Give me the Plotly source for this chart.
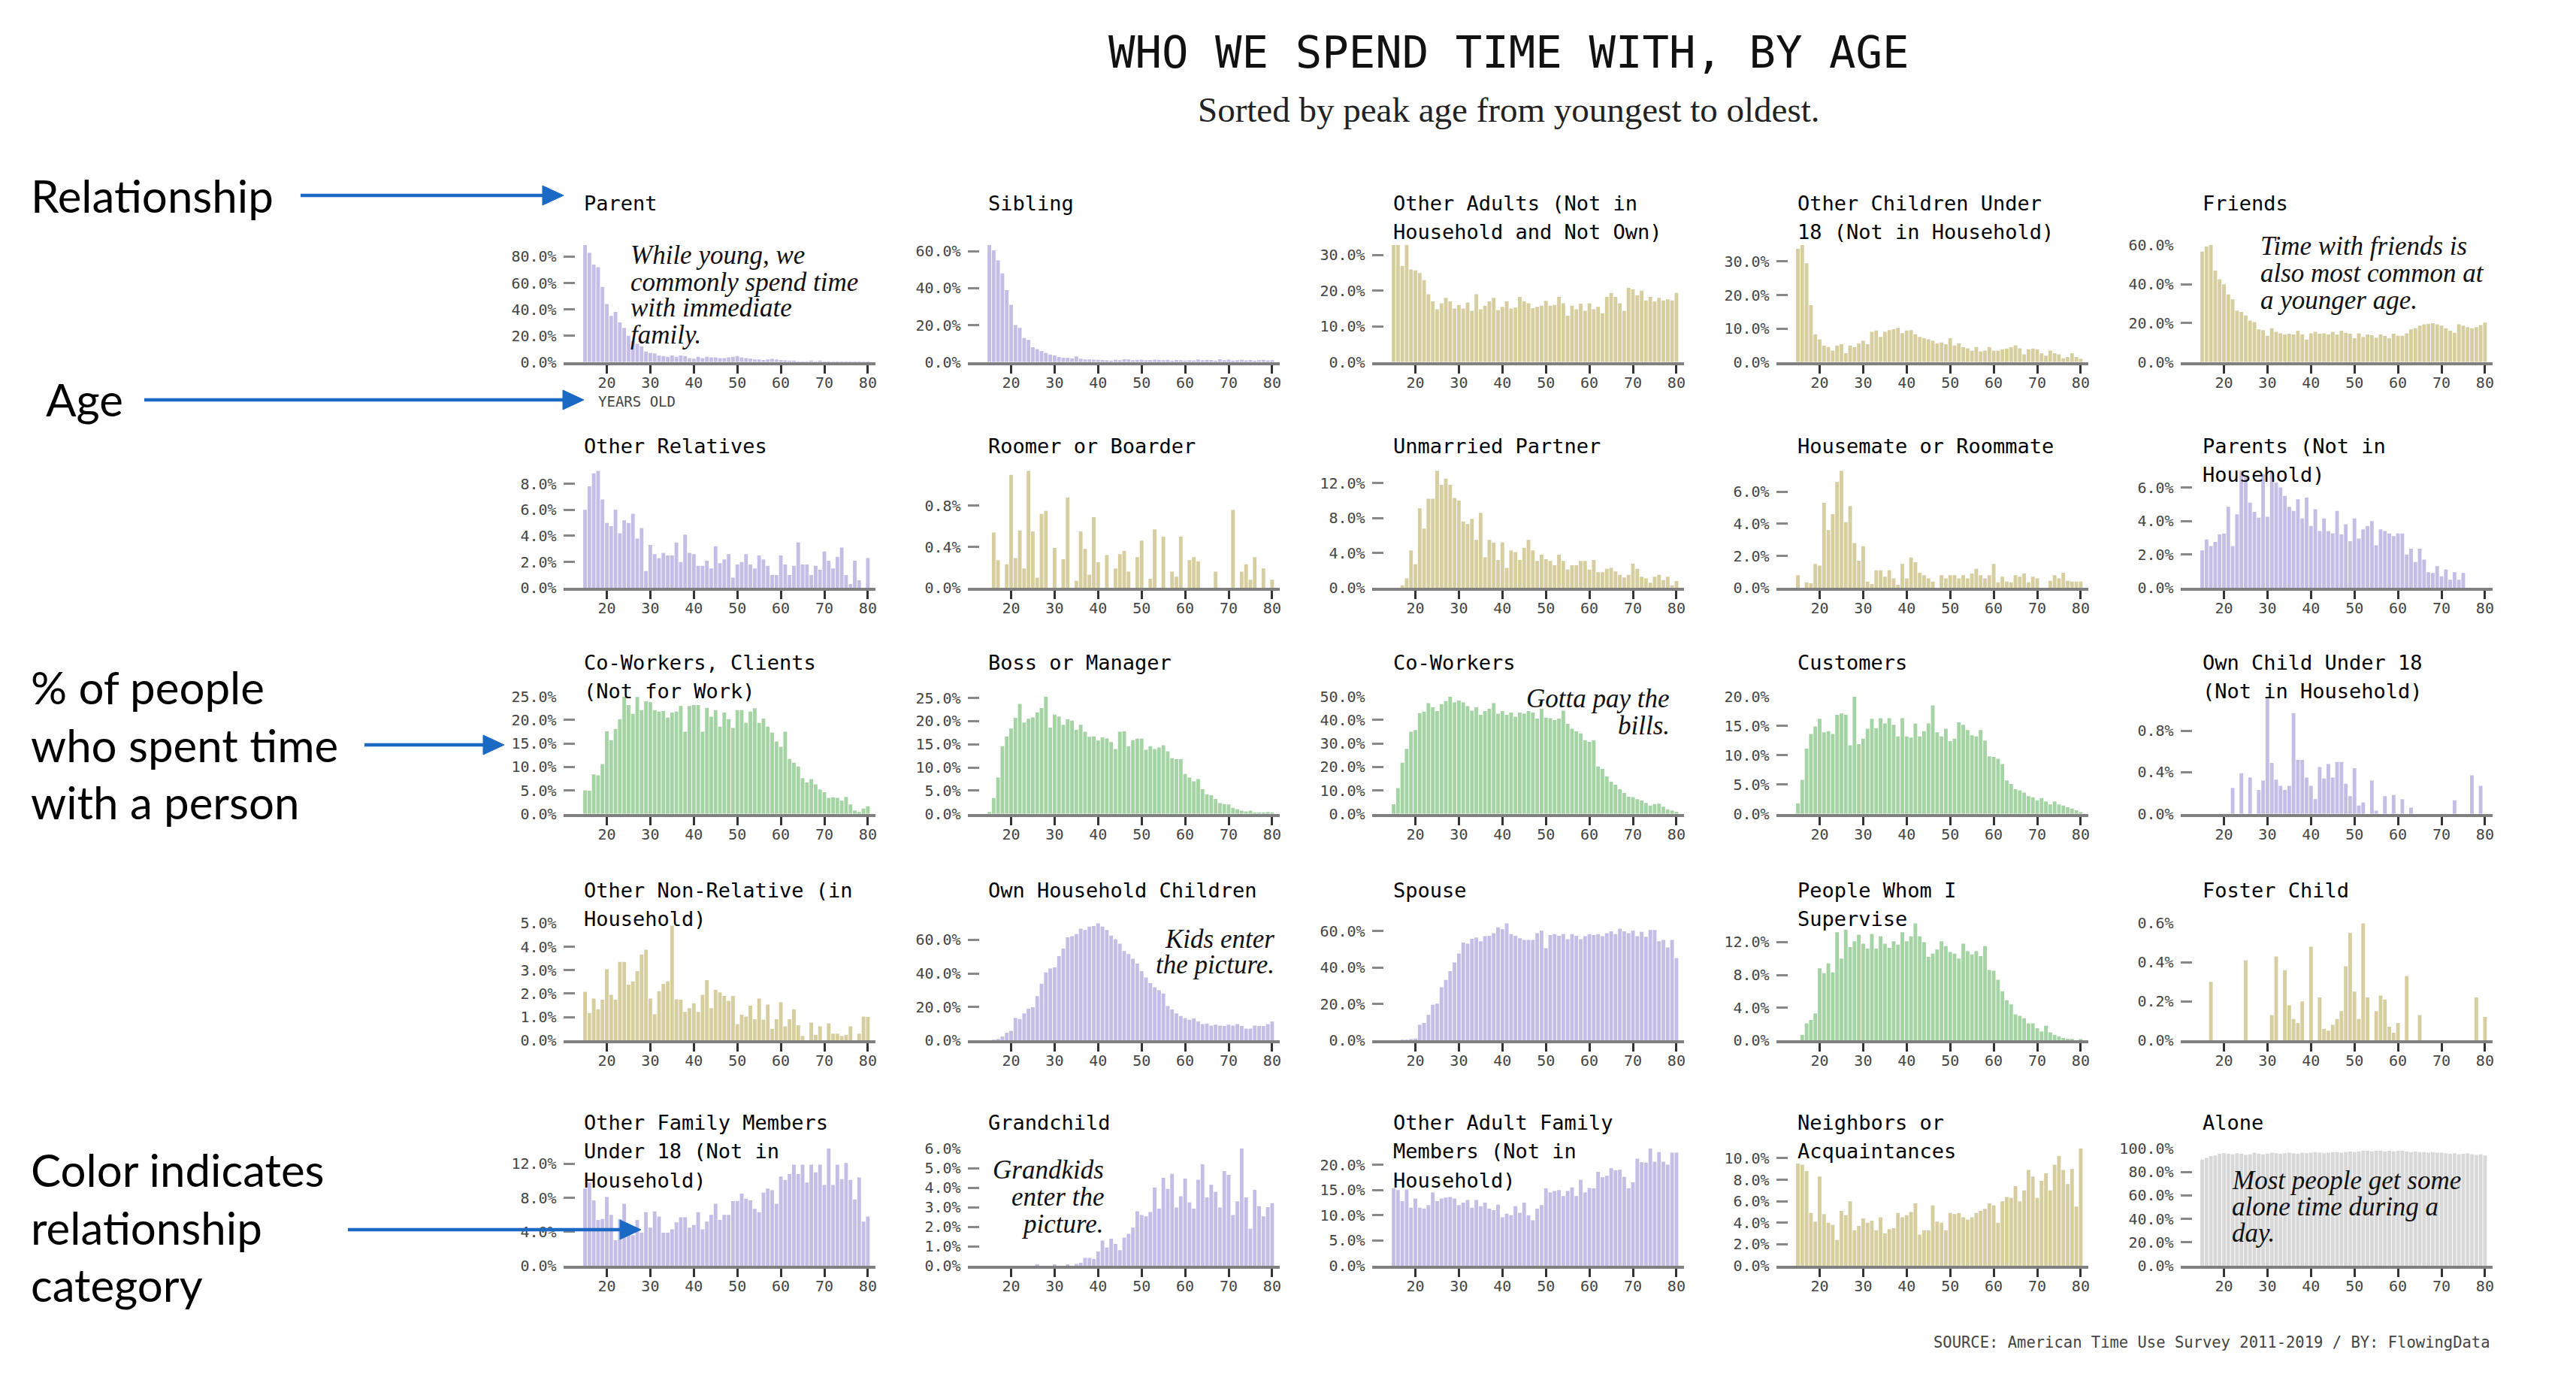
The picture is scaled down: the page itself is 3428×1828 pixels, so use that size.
import plotly.graph_objects as go

# ---------------- DATA ----------------
ages = list(range(15, 81))

parent = [89, 83, 74, 72, 57, 44, 35, 38, 30, 26,
          20, 16, 14, 12, 8, 7, 6.5, 5, 4.5, 4,
          5, 4, 5, 4.5, 3, 2.5, 4, 3, 4, 3.5,
          3.5, 3, 3, 3.5, 4, 4.5, 3.5, 3, 2.5, 2,
          2, 1.5, 2, 2.5, 2, 1.5, 1.2, 1, 0.8, 0.5,
          0.4, 0.3, 0.6, 0.5, 0.7, 0.3, 0.2, 0.2, 0.1, 0.1,
          0.1, 0.1, 0.1, 0.1, 0.1, 0.1]
sibling = [63.5, 60.5, 55, 48, 39, 31, 20, 18.5, 13, 12,
           8, 7, 6, 5, 4, 3.5, 2.7, 2.3, 2.3, 2,
           3, 1.8, 1.4, 1.4, 1.3, 1.2, 1.1, 1.0, 0.8, 1.2,
           1.0, 1.5, 1.4, 1.0, 1.2, 1.3, 1.0, 1.1, 1.3, 1.2,
           1.0, 1.2, 0.8, 1.1, 1.0, 0.8, 1.0, 0.9, 1.4, 1.0,
           1.2, 1.1, 0.7, 1.5, 1.0, 1.3, 0.8, 1.0, 1.2, 0.9,
           1.1, 0.8, 1.0, 1.2, 0.9, 1.0]
other_adults = [32.9, 32.9, 27, 32.9, 26, 25.7, 25, 23, 19, 17,
                14.8, 16.5, 18, 17, 15, 16, 15, 16.7, 14.4, 19,
                14.8, 15.8, 17, 18, 14.6, 15.5, 17, 15, 15.3, 18.3,
                17, 16.5, 15.1, 15.5, 15.8, 17.2, 15.8, 16, 18.3, 16.5,
                13, 15.8, 14.8, 16.4, 14.4, 16.5, 14.8, 15.5, 13.7, 18.3,
                19.4, 18.3, 16.5, 14.4, 20.8, 20.4, 18.7, 20, 17.3, 18.3,
                17, 18, 17.3, 17.6, 17.3, 19.4]
other_children = [33.8, 35, 29.5, 17, 8.3, 6.8, 4.9, 4.5, 3.4, 4.9,
                  5.3, 2.6, 4.9, 4.5, 5.6, 6.4, 5.3, 9, 9.4, 7.5,
                  9, 9.5, 9.8, 10.2, 8.6, 9.4, 9.5, 8.3, 7.5, 7.1,
                  6.8, 6.4, 5.6, 5.8, 5.3, 7.1, 4.9, 5.6, 4.5, 4.1,
                  3.4, 4.5, 3.2, 3.4, 4.5, 3.4, 3.4, 3.8, 4, 4.5,
                  5, 4.1, 2.3, 3.8, 4, 3.8, 2.6, 1.9, 3.4, 2.6,
                  2.3, 1.1, 1.5, 2.6, 1.5, 1]
friends = [56.8, 59.4, 60.3, 47, 42.6, 40, 34.8, 32.3, 26.5, 25.8,
           23.9, 21.3, 20.6, 16.8, 16.4, 13.5, 17.4, 15.5, 14.8, 14.2,
           14.6, 14.2, 16.1, 14.2, 11.6, 14.8, 15.5, 14.6, 14.8, 14.2,
           15.5, 14.2, 16.1, 15.1, 14.6, 12.3, 14.8, 12.9, 14.2, 13.8,
           12.5, 14.2, 13.5, 12.3, 14.6, 13.5, 13.5, 14.8, 16.8, 17.4,
           18.7, 19.4, 19.7, 20, 19.4, 18.7, 17.4, 16.1, 15.1, 19.4,
           18.7, 18, 17.4, 18, 19, 20.3]
other_relatives = [6.0, 7.8, 8.8, 9.0, 6.8, 5.0, 4.75, 6.0, 4.2, 5.2,
                   5.0, 5.7, 3.8, 4.6, 1.3, 3.3, 2.6, 2.3, 2.7, 2.5,
                   2.5, 3.5, 2.0, 4.1, 2.7, 2.6, 1.7, 1.7, 2.1, 1.5,
                   3.2, 1.9, 2.2, 2.6, 0.8, 1.8, 2.0, 2.6, 1.8, 1.5,
                   2.5, 2.2, 1.7, 1.0, 1.0, 2.5, 1.8, 1.0, 1.7, 3.5,
                   1.8, 1.8, 1.0, 1.7, 1.4, 2.8, 2.1, 1.5, 2.4, 3.1,
                   1.0, 0.3, 2.1, 0.6, 0.0, 2.3]
roomer_ages = [16, 17, 19, 20, 21, 22, 23, 24, 25, 26,
               27, 28, 30, 32, 33, 35, 36, 37, 38, 39,
               40, 42, 44, 45, 46, 47, 49, 50, 52, 53,
               55, 57, 58, 59, 61, 62, 63, 67, 71, 73,
               74, 75, 76, 78, 80]
roomer_vals = [0.54, 0.27, 0.23, 1.10, 0.29, 0.56, 0.19, 1.14, 0.55, 0.10,
               0.72, 0.75, 0.39, 0.28, 0.88, 0.07, 0.55, 0.38, 0.13, 0.69,
               0.25, 0.32, 0.19, 0.33, 0.36, 0.16, 0.30, 0.46, 0.09, 0.57,
               0.50, 0.16, 0.11, 0.50, 0.27, 0.30, 0.26, 0.16, 0.76, 0.16,
               0.23, 0.08, 0.30, 0.19, 0.08]
unmarried = [0, 0, 0.3, 1.1, 4.3, 2.7, 9.1, 6.8, 10.2, 10.2,
             13.4, 11.8, 12.5, 11.8, 10.3, 10.0, 7.6, 7.3, 7.9, 5.5,
             8.6, 3.5, 5.5, 5.2, 3.2, 5.2, 2.3, 4.3, 4.1, 3.2,
             4.6, 5.5, 4.3, 3.1, 3.8, 3.3, 3.1, 2.6, 3.8, 3.1,
             2.1, 2.6, 2.6, 3.1, 3.1, 2.1, 3.2, 1.8, 1.8, 2.2,
             2.3, 1.9, 1.5, 1.2, 1.5, 2.8, 2.2, 1.3, 1.1, 0.6,
             1.3, 1.5, 0.9, 1.3, 0.3, 0.8]
housemate = [0.8, 0, 0.35, 0.3, 1.5, 1.4, 5.3, 3.6, 4.6, 6.6,
             7.3, 4.1, 5.1, 2.8, 1.7, 2.6, 0.4, 0.25, 1.1, 1.1,
             0.7, 1.1, 0.6, 0.2, 1.5, 0.6, 1.9, 1.6, 0.95, 0.8,
             0.6, 0.4, 0, 0.8, 0.6, 0.8, 0.8, 0.6, 0.8, 0.6,
             0.9, 1.2, 0.8, 0.6, 0.8, 1.5, 0.35, 0.7, 0.4, 0.35,
             0.8, 0.7, 0.9, 0.35, 0.7, 0.6, 0, 0, 0.45, 0.8,
             0.6, 0.95, 0.45, 0.4, 0.4, 0.4]
parents_not_hh = [2.25, 2.9, 2.5, 2.75, 3.2, 3.25, 4.85, 2.5, 4.4, 7.0,
                  6.6, 5.1, 4.55, 4.2, 6.8, 4.25, 6.9, 6.3, 6.0, 5.5,
                  4.85, 4.6, 5.3, 4.15, 5.4, 3.7, 4.7, 3.4, 4.15, 3.4,
                  3.25, 4.6, 3.2, 3.8, 2.8, 4.15, 2.95, 3.5, 3.7, 4.0,
                  2.55, 3.5, 3.4, 3.25, 3.1, 3.25, 3.25, 2.0, 2.35, 1.55,
                  2.35, 1.7, 0.95, 0.9, 1.3, 0.7, 1.1, 0.5, 0.95, 0.5,
                  0.9, 0, 0, 0, 0, 0]
coworkers_clients = [5.0, 4.9, 8.4, 8.2, 10.6, 17.6, 15.7, 18.1, 20.2, 25.0,
                     23.2, 21.3, 24.9, 22.1, 24.0, 23.8, 22.1, 21.8, 21.9, 20.5,
                     21.6, 21.8, 23.0, 17.5, 23.0, 23.2, 23.2, 17.5, 22.6, 20.7,
                     22.1, 18.6, 21.6, 20.2, 18.3, 22.1, 22.1, 19.4, 21.8, 22.5,
                     19.4, 20.3, 18.6, 17.3, 15.4, 14.3, 17.5, 11.7, 10.9, 10.1,
                     7.6, 6.7, 7.4, 6.3, 5.2, 4.6, 3.4, 3.5, 3.4, 2.8,
                     3.6, 2.0, 0.7, 0.4, 1.1, 1.6]
boss = [0.4, 3.4, 7.8, 14.6, 16.7, 18.4, 20.7, 23.7, 19.7, 20.5,
        20.8, 21.9, 22.8, 25.3, 18.6, 21.4, 21.0, 19.2, 20.4, 20.1,
        18.1, 19.2, 17.7, 16.6, 16.7, 15.8, 16.5, 16.3, 15.5, 14.0,
        17.7, 17.8, 14.6, 15.9, 16.2, 16.2, 13.8, 14.6, 14.0, 14.3,
        14.8, 13.5, 12.0, 11.8, 11.8, 8.6, 7.8, 7.0, 7.5, 5.3,
        4.2, 4.0, 3.2, 2.3, 2.1, 2.0, 1.3, 1.0, 0.7, 0.5,
        0.7, 0.3, 0.3, 0.2, 0.4, 0.2]
coworkers = [4.1, 11, 21.8, 27.7, 35, 35.7, 42.9, 43.6, 47.2, 45.4,
             43.8, 46.8, 48.1, 50.0, 47.5, 48.3, 47.5, 45.9, 44.0, 45.4,
             42.2, 43.8, 44.8, 47.2, 42.7, 43.8, 42.2, 43.2, 41.4, 43.2,
             42.7, 43.8, 43.2, 40.6, 44.8, 41.0, 40.8, 40.0, 40.6, 44.0,
             38.4, 36.3, 35.2, 34.3, 31.4, 30.7, 31.4, 20.2, 19.1, 15.9,
             13.7, 12.4, 10.5, 8.9, 7.3, 7.1, 6.2, 5.7, 4.6, 3.5,
             4.1, 4.3, 3.0, 1.9, 1.4, 0.9]
customers = [1.8, 5.8, 11.1, 13.6, 14.9, 16.2, 13.9, 14.1, 13.6, 16.9,
             17.1, 16.9, 11.7, 20.0, 11.9, 12.8, 14.5, 16.2, 14.6, 16.3,
             15.4, 16.3, 15.2, 13.2, 16.3, 13.2, 13.0, 15.4, 13.2, 14.1,
             15.4, 18.5, 13.9, 13.2, 14.5, 12.4, 12.8, 15.6, 15.2, 14.3,
             13.4, 13.2, 14.3, 12.5, 9.8, 9.7, 9.4, 8.5, 5.7, 5.1,
             4.2, 4.0, 3.6, 3.0, 2.8, 2.3, 2.7, 2.1, 1.6, 2.1,
             1.6, 1.4, 1.1, 0.9, 0.6, 0.3]
own_child_not_hh_ages = [22, 24, 26, 28, 29, 30, 31, 32, 33, 34,
                         35, 36, 37, 38, 39, 40, 41, 42, 43, 44,
                         45, 46, 47, 48, 49, 50, 51, 52, 54, 55,
                         57, 59, 61, 63, 73, 77, 79]
own_child_not_hh_vals = [0.25, 0.39, 0.35, 0.23, 0.32, 1.13, 0.49, 0.33, 0.27, 0.23,
                         0.27, 0.97, 0.52, 0.52, 0.35, 0.27, 0.14, 0.45, 0.34, 0.48,
                         0.35, 0.5, 0.5, 0.29, 0.17, 0.44, 0.08, 0.11, 0.32, 0.03,
                         0.17, 0.18, 0.14, 0.06, 0.13, 0.37, 0.27]
other_non_relative = [2.08, 1.17, 1.79, 1.33, 1.74, 3.04, 1.95, 1.74, 3.35, 3.35,
                      2.38, 2.52, 2.96, 3.66, 3.87, 1.79, 1.12, 2.10, 2.41, 2.52,
                      4.9, 1.76, 1.74, 1.22, 1.38, 1.59, 1.22, 1.95, 2.57, 1.38,
                      2.16, 2.05, 1.90, 1.69, 1.90, 0.70, 1.10, 1.02, 1.48, 0.91,
                      1.79, 0.89, 1.53, 0.50, 0.91, 1.64, 0.60, 0.91, 1.33, 0.65,
                      0.19, 0, 0.76, 0.24, 0.60, 0, 0.73, 0.29, 0.29, 0.19,
                      0.24, 0.60, 0, 0.29, 1.02, 1.0]
own_hh_children = [0, 0.3, 0.6, 2.4, 4.6, 5.7, 13.5, 12.8, 16.1, 19.0,
                   19.8, 26.5, 33.9, 40.6, 42.9, 43.6, 50.3, 54.8, 61.5, 62.2,
                   63.4, 66.7, 65.9, 67.9, 68.2, 69.9, 67.9, 65.9, 62.5, 60.4,
                   57.7, 53.3, 51.5, 48.8, 45.8, 41.4, 37.6, 34.2, 31.7, 30.0,
                   28.0, 20.5, 18.5, 16.1, 14.6, 13.4, 12.4, 13.1, 11.3, 9.8,
                   10.1, 8.9, 9.4, 8.9, 8.6, 9.4, 8.9, 9.8, 8.6, 7.1,
                   7.1, 8.9, 8.6, 8.6, 9.8, 11.3]
spouse = [0, 0, 0.3, 0.4, 0.8, 1.1, 8.6, 9.6, 14.1, 19.6,
          20.3, 29.2, 33.3, 38.1, 42.9, 47.7, 53.8, 53.2, 55.9, 56.6,
          54.5, 57.3, 57.5, 58.9, 62.1, 61.1, 64.4, 58.4, 57.5, 56.2,
          55.2, 55.2, 55.2, 58.9, 60.3, 50.7, 57.9, 58.4, 57.5, 58.4,
          55.6, 58.4, 57.5, 55.6, 57.3, 58.4, 57.9, 58.4, 57.3, 58.9,
          60.0, 58.4, 61.4, 60.0, 58.9, 60.3, 57.3, 59.7, 57.0, 60.7,
          60.7, 54.5, 55.2, 51.1, 55.2, 45.2]
supervise = [0, 0.7, 2.1, 2.5, 3.3, 8.8, 8.2, 9.4, 8.3, 13.2,
             10.0, 13.5, 11.4, 12.1, 12.9, 11.8, 11.2, 13.0, 11.2, 12.7,
             11.8, 11.3, 12.1, 11.7, 13.2, 12.1, 12.7, 14.3, 12.7, 12.0,
             10.2, 10.6, 11.1, 12.1, 11.5, 10.8, 10.6, 10.0, 11.8, 10.9,
             10.5, 10.9, 10.3, 11.5, 8.6, 8.5, 7.4, 6.0, 4.9, 4.4,
             3.2, 3.0, 2.7, 2.1, 2.1, 1.5, 1.1, 1.8, 1.0, 0.7,
             0.5, 0.3, 0.2, 0.1, 0, 0.1]
foster_ages = [17, 25, 31, 32, 34, 35, 36, 37, 38, 40,
               42, 43, 44, 45, 46, 47, 48, 49, 50, 51,
               52, 53, 55, 56, 57, 58, 59, 60, 62, 65,
               78, 80]
foster_vals = [0.30, 0.41, 0.13, 0.43, 0.36, 0.18, 0.11, 0.09, 0.20, 0.48,
               0.22, 0.06, 0.05, 0.08, 0.11, 0.15, 0.38, 0.55, 0.25, 0.11,
               0.60, 0.22, 0.15, 0.23, 0.21, 0.07, 0.04, 0.09, 0.33, 0.13,
               0.22, 0.12]
other_family_u18 = [9.1, 9.8, 7.7, 5.4, 5.5, 8.1, 6.0, 3.0, 5.5, 7.3,
                    4.5, 3.6, 5.4, 3.9, 6.3, 4.5, 6.4, 5.8, 3.9, 3.9,
                    4.3, 5.1, 5.7, 5.7, 4.5, 4.8, 6.3, 4.3, 5.2, 6.0,
                    7.3, 5.4, 6.0, 6.0, 7.6, 7.6, 8.5, 7.9, 7.7, 6.7,
                    6.3, 8.6, 9.1, 8.9, 7.3, 10.5, 10.1, 10.8, 11.9, 10.8,
                    11.9, 9.8, 11.9, 11.0, 11.9, 9.5, 13.8, 9.5, 11.9, 10.2,
                    12.1, 10.1, 7.8, 10.4, 5.2, 5.8]
grandchild = [0, 0, 0, 0, 0, 0, 0, 0, 0, 0,
              0, 0.05, 0, 0, 0, 0.05, 0, 0, 0.05, 0,
              0.1, 0.15, 0.4, 0.4, 0.35, 0.73, 1.29, 0.93, 1.38, 1.12,
              0.8, 1.44, 1.63, 1.95, 2.79, 2.6, 2.53, 2.75, 4.0, 2.92,
              4.5, 3.93, 4.7, 2.98, 3.56, 4.46, 3.24, 2.92, 4.4, 5.19,
              3.5, 4.14, 3.78, 2.98, 4.85, 4.65, 2.6, 3.3, 6.0, 3.5,
              1.89, 3.88, 3.05, 2.53, 3.0, 3.2]
other_adult_family = [15.3, 15.0, 12.8, 15.1, 11.5, 13.3, 11.5, 11.3, 12.0, 14.5,
                      12.8, 13.3, 13.5, 13.6, 13.3, 12.0, 12.5, 13.0, 11.5, 13.0,
                      11.8, 12.5, 11.3, 11.0, 12.1, 9.6, 10.3, 10.0, 11.8, 10.5,
                      12.5, 10.0, 9.0, 11.3, 12.0, 15.3, 14.5, 14.8, 15.0, 13.8,
                      14.8, 15.5, 13.8, 17.0, 14.5, 15.4, 15.3, 18.6, 17.5, 17.8,
                      19.3, 18.9, 19.0, 17.6, 15.3, 16.5, 21.2, 20.5, 20.4, 23.2,
                      20.6, 22.5, 20.6, 20.0, 22.4, 22.4]
neighbors = [9.5, 9.4, 8.8, 4.9, 4.1, 8.3, 4.8, 4.0, 3.8, 2.4,
             5.1, 4.7, 6.0, 3.3, 3.7, 4.4, 4.0, 4.2, 3.3, 4.5,
             3.0, 3.4, 3.5, 4.9, 4.5, 4.7, 5.0, 5.8, 2.9, 3.3,
             3.3, 5.6, 4.1, 4.0, 3.3, 4.9, 4.8, 4.9, 4.5, 4.3,
             4.5, 4.9, 5.1, 5.3, 5.8, 5.6, 4.0, 6.0, 6.4, 6.3,
             7.4, 6.0, 7.0, 8.9, 8.3, 6.3, 7.9, 8.6, 7.0, 9.4,
             10.2, 8.9, 7.6, 9.0, 5.5, 10.9]
alone = [90.5, 92, 93.5, 94, 95.5, 96, 95.5, 95, 96, 95.5,
         94.5, 95, 96.5, 95.5, 95, 95.5, 96.5, 96, 95.5, 96,
         96.5, 96, 95.5, 96.5, 96, 96.5, 97, 96.5, 96, 96.5,
         97, 97, 96.5, 97, 97.5, 97, 97.5, 98, 98, 97.5,
         98, 98, 97.5, 98, 97.5, 98, 98, 97.5, 97, 97.5,
         97, 97, 96.5, 97, 96.5, 96.5, 96, 95.5, 96, 95,
         95.5, 96, 95, 94.5, 95, 94]


def expand(a_list, v_list):
    d = dict(zip(a_list, v_list))
    return [d.get(a, 0) for a in ages]


roomer = expand(roomer_ages, roomer_vals)
own_child_not_hh = expand(own_child_not_hh_ages, own_child_not_hh_vals)
foster = expand(foster_ages, foster_vals)

panel_titles = [
    ["Parent"], ["Sibling"], ["Other Adults (Not in", "Household and Not Own)"],
    ["Other Children Under", "18 (Not in Household)"], ["Friends"],
    ["Other Relatives"], ["Roomer or Boarder"], ["Unmarried Partner"],
    ["Housemate or Roommate"], ["Parents (Not in", "Household)"],
    ["Co-Workers, Clients", "(Not for Work)"], ["Boss or Manager"], ["Co-Workers"],
    ["Customers"], ["Own Child Under 18", "(Not in Household)"],
    ["Other Non-Relative (in", "Household)"], ["Own Household Children"], ["Spouse"],
    ["People Whom I", "Supervise"], ["Foster Child"],
    ["Other Family Members", "Under 18 (Not in", "Household)"], ["Grandchild"],
    ["Other Adult Family", "Members (Not in", "Household)"],
    ["Neighbors or", "Acquaintances"], ["Alone"],
]
panel_values = [
    parent, sibling, other_adults, other_children, friends,
    other_relatives, roomer, unmarried, housemate, parents_not_hh,
    coworkers_clients, boss, coworkers, customers, own_child_not_hh,
    other_non_relative, own_hh_children, spouse, supervise, foster,
    other_family_u18, grandchild, other_adult_family, neighbors, alone,
]
panel_categories = [
    "family", "family", "other", "other", "other",
    "family", "other", "other", "other", "family",
    "work", "work", "work", "work", "family",
    "other", "family", "family", "work", "other",
    "family", "family", "family", "other", "alone",
]
panel_ticks = [
    [0, 20, 40, 60, 80], [0, 20, 40, 60], [0, 10, 20, 30], [0, 10, 20, 30], [0, 20, 40, 60],
    [0, 2, 4, 6, 8], [0, 0.4, 0.8], [0, 4, 8, 12], [0, 2, 4, 6], [0, 2, 4, 6],
    [0, 5, 10, 15, 20, 25], [0, 5, 10, 15, 20, 25], [0, 10, 20, 30, 40, 50], [0, 5, 10, 15, 20], [0, 0.4, 0.8],
    [0, 1, 2, 3, 4, 5], [0, 20, 40, 60], [0, 20, 40, 60], [0, 4, 8, 12], [0, 0.2, 0.4, 0.6],
    [0, 4, 8, 12], [0, 1, 2, 3, 4, 5, 6], [0, 5, 10, 15, 20], [0, 2, 4, 6, 8, 10], [0, 20, 40, 60, 80, 100],
]
x_ticks = [20, 30, 40, 50, 60, 70, 80]

category_colors = {"family": "#c4bde6", "other": "#d7cea0", "work": "#a4d3a4", "alone": "#d8d8d8"}

# ---------------- LAYOUT GEOMETRY (page pixels) ----------------
W, H, OFF = 3428, 1828, 0


def px(X):
    return (X - OFF) / W


def py(Y):
    return 1 - (Y - OFF) / H


TICK20_X = 807.5
COL_STEP = 538.0
PX_PER_YR = 5.79
X_MIN, X_MAX = 10, 81.8
ZERO_Y = [481.7, 782.3, 1082.7, 1384.3, 1684]
PLOT_H = 156
TITLE_Y = [270, 593, 881, 1184, 1493]
TITLE_X0 = 775
TITLE_STEP = 538.4
LINE_STEP = 38.8

MONO = "DejaVu Sans Mono"
SERIF = "Liberation Serif"
SANS = "Lato"

fig = go.Figure()
annotations = []
shapes = []
axes = {}

for i, (tlines, vals, cat, ticks) in enumerate(zip(panel_titles, panel_values, panel_categories, panel_ticks)):
    r, c = divmod(i, 5)
    xa = "x" if i == 0 else f"x{i + 1}"
    ya = "y" if i == 0 else f"y{i + 1}"
    fig.add_trace(go.Bar(x=ages, y=vals, xaxis=xa, yaxis=ya,
                         marker=dict(color=category_colors[cat], line=dict(width=0)),
                         hoverinfo="skip", showlegend=False))
    t20 = TICK20_X + COL_STEP * c
    left = t20 - (20 - X_MIN) * PX_PER_YR
    right = t20 + (X_MAX - 20) * PX_PER_YR
    z = ZERO_Y[r]
    ymax = max(max(vals), max(ticks))
    axes["xaxis" if i == 0 else f"xaxis{i + 1}"] = dict(
        domain=[px(left), px(right)], range=[X_MIN, X_MAX], anchor=ya,
        tickvals=x_ticks, ticktext=[str(t) for t in x_ticks],
        ticks="outside", ticklen=11, tickwidth=3, tickcolor="#333",
        showline=True, linewidth=4, linecolor="#808080",
        showgrid=False, zeroline=False, fixedrange=True, automargin=False,
        ticklabelstandoff=-5,
        tickfont=dict(family=MONO, size=20, color="#444"),
    )
    axes["yaxis" if i == 0 else f"yaxis{i + 1}"] = dict(
        domain=[py(z), py(z - PLOT_H)], range=[0, ymax], anchor=xa,
        tickvals=ticks, ticktext=[f"{t:.1f}%" for t in ticks],
        ticks="inside", ticklen=15, tickwidth=3, tickcolor="#888",
        showline=False, showgrid=False, zeroline=False, fixedrange=True, automargin=False,
        ticklabelstandoff=8,
        tickfont=dict(family=MONO, size=20, color="#444"),
    )
    for k, line in enumerate(tlines):
        annotations.append(dict(
            text=line, x=px(TITLE_X0 + TITLE_STEP * c), y=py(TITLE_Y[r] + k * LINE_STEP),
            xref="paper", yref="paper", xanchor="left", yanchor="middle", showarrow=False,
            font=dict(family=MONO, size=27, color="#000"),
        ))


def add_text(text, X, Y, size, family, color="#111", xanchor="left", italic=False):
    annotations.append(dict(
        text=f"<i>{text}</i>" if italic else text, x=px(X), y=py(Y), xref="paper", yref="paper",
        xanchor=xanchor, yanchor="middle", showarrow=False,
        font=dict(family=family, size=size, color=color),
    ))


# Titles
add_text("WHO WE SPEND TIME WITH, BY AGE", 2008, 70, 59, MONO, "#111", "center")
add_text("Sorted by peak age from youngest to oldest.", 2008, 146, 47, SERIF, "#222", "center")

# Italic notes
for k, line in enumerate(["While young, we", "commonly spend time", "with immediate", "family."]):
    add_text(line, 837, 340 + 35 * k, 35, SERIF, "#111", "left", True)
for k, line in enumerate(["Time with friends is", "also most common at", "a younger age."]):
    add_text(line, 3006, 328 + 35.5 * k, 35, SERIF, "#111", "left", True)
for k, line in enumerate(["Gotta pay the", "bills."]):
    add_text(line, 2224, 929 + 36 * k, 35, SERIF, "#111", "right", True)
for k, line in enumerate(["Kids enter", "the picture."]):
    add_text(line, 1698, 1249 + 34 * k, 35, SERIF, "#111", "right", True)
for k, line in enumerate(["Grandkids", "enter the", "picture."]):
    add_text(line, 1471, 1556 + 36 * k, 35, SERIF, "#111", "right", True)
for k, line in enumerate(["Most people get some", "alone time during a", "day."]):
    add_text(line, 2968, 1570 + 35 * k, 35, SERIF, "#111", "left", True)

# Axis hint + source
add_text("YEARS OLD", 794, 534, 19, MONO, "#444")
add_text("SOURCE: American Time Use Survey 2011-2019 / BY: FlowingData", 3316, 1786, 20.5, MONO, "#444", "right")

# Left explanatory labels
add_text("Relationship", 39, 260, 60, SANS, "#000")
add_text("Age", 59, 531, 60, SANS, "#000")
for k, line in enumerate(["% of people", "who spent time", "with a person"]):
    add_text(line, 39, 914 + 76.5 * k, 60, SANS, "#000")
for k, line in enumerate(["Color indicates", "relationship", "category"]):
    add_text(line, 39, 1556 + 76.5 * k, 60, SANS, "#000")

ARROW = "#1a6ac4"


def add_arrow(x0, x1, y):
    shapes.append(dict(type="line", xref="paper", yref="paper",
                       x0=px(x0), x1=px(x1 - 20), y0=py(y), y1=py(y),
                       line=dict(color=ARROW, width=4.5)))
    path = (f"M {px(x1)},{py(y)} L {px(x1 - 28)},{py(y - 13)} "
            f"L {px(x1 - 28)},{py(y + 13)} Z")
    shapes.append(dict(type="path", xref="paper", yref="paper", path=path,
                       fillcolor=ARROW, line=dict(color=ARROW, width=1)))


add_arrow(400, 750, 260)
add_arrow(192, 777, 532)
add_arrow(485, 671, 991)
add_arrow(463, 853, 1636)

fig.update_layout(
    width=W, height=H, margin=dict(l=0, r=0, t=0, b=0, pad=0, autoexpand=False),
    paper_bgcolor="white", plot_bgcolor="white",
    bargap=0.16, annotations=annotations, shapes=shapes,
    **axes,
)

pin_page = (
    "var gd=document.getElementById('{plot_id}');"
    "gd.style.position='fixed';gd.style.left='0px';gd.style.top='0px';"
    "document.body.style.margin='0';document.body.style.overflow='hidden';"
    "document.documentElement.style.overflow='hidden';"
)

fig.write_html("out.html", post_script=pin_page, config={"displayModeBar": False})
